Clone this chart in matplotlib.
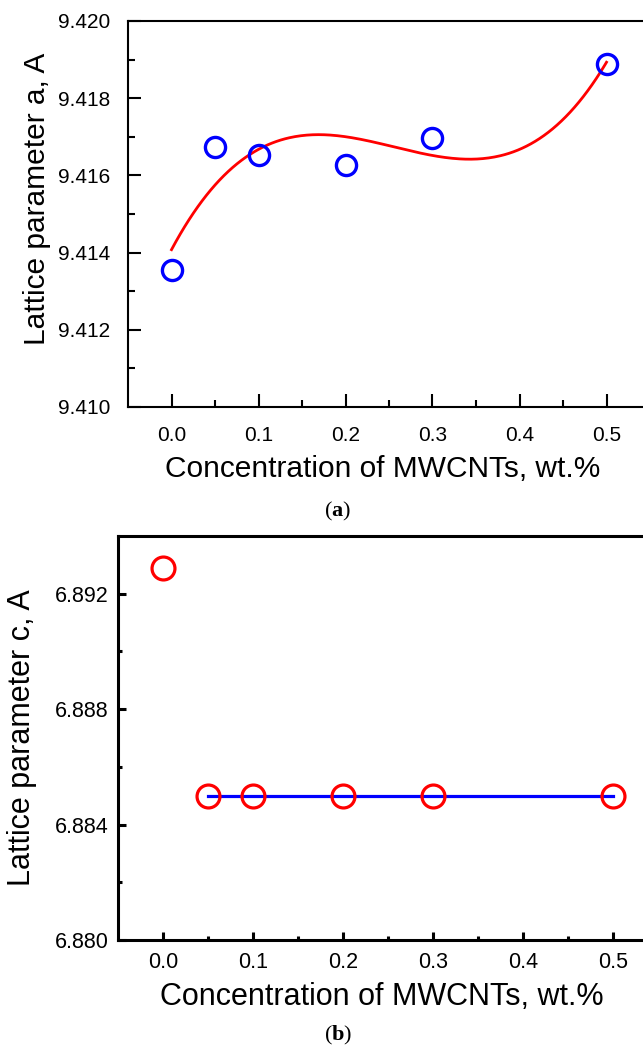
import numpy as np
import matplotlib
matplotlib.use("Agg")
import matplotlib.pyplot as plt

plt.rcParams['font.family'] = ['Liberation Sans', 'DejaVu Sans']
plt.rcParams['mathtext.fontset'] = 'custom'
plt.rcParams['mathtext.bf'] = 'Liberation Serif:bold'
plt.rcParams['mathtext.rm'] = 'Liberation Serif'

# Data
conc = [0.0, 0.05, 0.1, 0.2, 0.3, 0.5]
lat_a = [9.41356, 9.41674, 9.41652, 9.41628, 9.41697, 9.41888]
lat_c = [6.8929, 6.8850, 6.8850, 6.8850, 6.8850, 6.8850]
xticks = [0.0, 0.1, 0.2, 0.3, 0.4, 0.5]
a_ticks = [9.410, 9.412, 9.414, 9.416, 9.418, 9.420]
c_ticks = [6.880, 6.884, 6.888, 6.892]
xlabel = "Concentration of MWCNTs, wt.%"
ylabel_a = "Lattice parameter a, A"
ylabel_c = "Lattice parameter c, A"

W, H = 643, 1055
fig = plt.figure(figsize=(W/100, H/100), dpi=100)

def frac(l, t, r, b):
    return [l/W, 1 - b/H, (r - l)/W, (b - t)/H]

ax1 = fig.add_axes(frac(128, 21, 650, 407))
ax2 = fig.add_axes(frac(118, 536, 658, 940))

def style(ax, lw, maj, mnr, fs, pad_x, pad_y):
    for s in ax.spines.values():
        s.set_linewidth(lw)
    ax.tick_params(which='both', direction='in', width=lw, top=False, right=False)
    ax.tick_params(which='major', length=maj)
    ax.tick_params(which='minor', length=mnr)
    ax.tick_params(axis='x', which='major', labelsize=fs, pad=pad_x)
    ax.tick_params(axis='y', which='major', labelsize=fs, pad=pad_y)

# Panel (a)
ax1.plot(conc, lat_a, 'o', ms=14.5, mfc='none', mec='#0000ff', mew=2.4, zorder=3)
coef = np.polyfit(conc, lat_a, 3)
xf = np.linspace(min(conc), max(conc), 300)
ax1.plot(xf, np.polyval(coef, xf), color='#ff0000', lw=2.0, zorder=2)
ax1.set_xlim(-0.05, 0.55)
ax1.set_ylim(9.410, 9.420)
ax1.set_xticks(xticks)
ax1.set_xticklabels([f"{v:.1f}" for v in xticks])
ax1.set_xticks([0.05, 0.15, 0.25, 0.35, 0.45], minor=True)
ax1.set_yticks(a_ticks)
ax1.set_yticklabels([f"{v:.3f}" for v in a_ticks])
ax1.set_yticks([9.411, 9.413, 9.415, 9.417, 9.419], minor=True)
style(ax1, 1.5, 9.5, 5, 15, 14, 13)
ax1.set_xlabel(xlabel, fontsize=21.5)
ax1.xaxis.set_label_coords(0.488, -0.124)
ax1.set_ylabel(ylabel_a, fontsize=21.5)
ax1.yaxis.set_label_coords(-0.148, 0.54)

# Panel (b)
ax2.plot(conc, lat_c, 'o', ms=16.5, mfc='none', mec='#ff0000', mew=2.3, zorder=3)
ax2.plot(conc[1:], lat_c[1:], color='#0000ff', lw=2.3, zorder=2)
ax2.set_xlim(-0.05, 0.55)
ax2.set_ylim(6.880, 6.894)
ax2.set_xticks(xticks)
ax2.set_xticklabels([f"{v:.1f}" for v in xticks])
ax2.set_xticks([0.05, 0.15, 0.25, 0.35, 0.45], minor=True)
ax2.set_yticks(c_ticks)
ax2.set_yticklabels([f"{v:.3f}" for v in c_ticks])
ax2.set_yticks([6.882, 6.886, 6.890], minor=True)
style(ax2, 2.2, 6, 3, 15.5, 9, 7)
ax2.set_xlabel(xlabel, fontsize=22)
ax2.xaxis.set_label_coords(0.488, -0.104)
ax2.set_ylabel(ylabel_c, fontsize=22)
ax2.yaxis.set_label_coords(-0.150, 0.5)

fig.text(338/W, 1 - 511/H, r'($\mathbf{a}$)', ha='center', va='center',
         fontsize=16, family='Liberation Serif')
fig.text(338/W, 1 - 1035/H, r'($\mathbf{b}$)', ha='center', va='center',
         fontsize=16, family='Liberation Serif')

fig.savefig("out.png", dpi=100)
